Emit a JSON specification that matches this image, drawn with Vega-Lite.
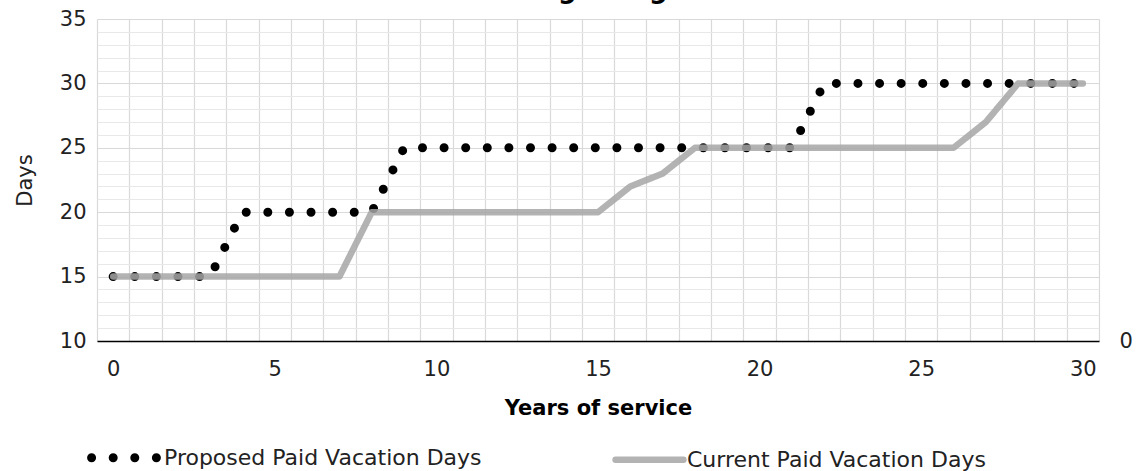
{
  "$schema": "https://vega.github.io/schema/vega-lite/v6.json",
  "width": 1002,
  "height": 322,
  "autosize": {"type": "none"},
  "padding": {"left": 97, "top": 19, "right": 37, "bottom": 130},
  "background": "white",
  "title": {"text": "Bargaining Goal", "font": "DejaVu Sans", "fontSize": 26, "fontWeight": "bold", "color": "#000000", "baseline": "alphabetic", "offset": 0, "dy": 16, "anchor": "middle", "dx": 27},
  "config": {"font": "DejaVu Sans", "view": {"stroke": null}},
  "data": {"values": [
    {"year": 0, "days": 15, "series": "Proposed Paid Vacation Days"},
    {"year": 1, "days": 15, "series": "Proposed Paid Vacation Days"},
    {"year": 2, "days": 15, "series": "Proposed Paid Vacation Days"},
    {"year": 3, "days": 15, "series": "Proposed Paid Vacation Days"},
    {"year": 4, "days": 20, "series": "Proposed Paid Vacation Days"},
    {"year": 5, "days": 20, "series": "Proposed Paid Vacation Days"},
    {"year": 6, "days": 20, "series": "Proposed Paid Vacation Days"},
    {"year": 7, "days": 20, "series": "Proposed Paid Vacation Days"},
    {"year": 8, "days": 20, "series": "Proposed Paid Vacation Days"},
    {"year": 9, "days": 25, "series": "Proposed Paid Vacation Days"},
    {"year": 10, "days": 25, "series": "Proposed Paid Vacation Days"},
    {"year": 11, "days": 25, "series": "Proposed Paid Vacation Days"},
    {"year": 12, "days": 25, "series": "Proposed Paid Vacation Days"},
    {"year": 13, "days": 25, "series": "Proposed Paid Vacation Days"},
    {"year": 14, "days": 25, "series": "Proposed Paid Vacation Days"},
    {"year": 15, "days": 25, "series": "Proposed Paid Vacation Days"},
    {"year": 16, "days": 25, "series": "Proposed Paid Vacation Days"},
    {"year": 17, "days": 25, "series": "Proposed Paid Vacation Days"},
    {"year": 18, "days": 25, "series": "Proposed Paid Vacation Days"},
    {"year": 19, "days": 25, "series": "Proposed Paid Vacation Days"},
    {"year": 20, "days": 25, "series": "Proposed Paid Vacation Days"},
    {"year": 21, "days": 25, "series": "Proposed Paid Vacation Days"},
    {"year": 22, "days": 30, "series": "Proposed Paid Vacation Days"},
    {"year": 23, "days": 30, "series": "Proposed Paid Vacation Days"},
    {"year": 24, "days": 30, "series": "Proposed Paid Vacation Days"},
    {"year": 25, "days": 30, "series": "Proposed Paid Vacation Days"},
    {"year": 26, "days": 30, "series": "Proposed Paid Vacation Days"},
    {"year": 27, "days": 30, "series": "Proposed Paid Vacation Days"},
    {"year": 28, "days": 30, "series": "Proposed Paid Vacation Days"},
    {"year": 29, "days": 30, "series": "Proposed Paid Vacation Days"},
    {"year": 30, "days": 30, "series": "Proposed Paid Vacation Days"},
    {"year": 0, "days": 15, "series": "Current Paid Vacation Days"},
    {"year": 1, "days": 15, "series": "Current Paid Vacation Days"},
    {"year": 2, "days": 15, "series": "Current Paid Vacation Days"},
    {"year": 3, "days": 15, "series": "Current Paid Vacation Days"},
    {"year": 4, "days": 15, "series": "Current Paid Vacation Days"},
    {"year": 5, "days": 15, "series": "Current Paid Vacation Days"},
    {"year": 6, "days": 15, "series": "Current Paid Vacation Days"},
    {"year": 7, "days": 15, "series": "Current Paid Vacation Days"},
    {"year": 8, "days": 20, "series": "Current Paid Vacation Days"},
    {"year": 9, "days": 20, "series": "Current Paid Vacation Days"},
    {"year": 10, "days": 20, "series": "Current Paid Vacation Days"},
    {"year": 11, "days": 20, "series": "Current Paid Vacation Days"},
    {"year": 12, "days": 20, "series": "Current Paid Vacation Days"},
    {"year": 13, "days": 20, "series": "Current Paid Vacation Days"},
    {"year": 14, "days": 20, "series": "Current Paid Vacation Days"},
    {"year": 15, "days": 20, "series": "Current Paid Vacation Days"},
    {"year": 16, "days": 22, "series": "Current Paid Vacation Days"},
    {"year": 17, "days": 23, "series": "Current Paid Vacation Days"},
    {"year": 18, "days": 25, "series": "Current Paid Vacation Days"},
    {"year": 19, "days": 25, "series": "Current Paid Vacation Days"},
    {"year": 20, "days": 25, "series": "Current Paid Vacation Days"},
    {"year": 21, "days": 25, "series": "Current Paid Vacation Days"},
    {"year": 22, "days": 25, "series": "Current Paid Vacation Days"},
    {"year": 23, "days": 25, "series": "Current Paid Vacation Days"},
    {"year": 24, "days": 25, "series": "Current Paid Vacation Days"},
    {"year": 25, "days": 25, "series": "Current Paid Vacation Days"},
    {"year": 26, "days": 25, "series": "Current Paid Vacation Days"},
    {"year": 27, "days": 27, "series": "Current Paid Vacation Days"},
    {"year": 28, "days": 30, "series": "Current Paid Vacation Days"},
    {"year": 29, "days": 30, "series": "Current Paid Vacation Days"},
    {"year": 30, "days": 30, "series": "Current Paid Vacation Days"}
  ]},
  "encoding": {
    "x": {
      "field": "year", "type": "quantitative",
      "scale": {"domain": [-0.5, 30.5], "nice": false, "zero": false},
      "axis": {
        "values": [-0.5, 0.5, 1.5, 2.5, 3.5, 4.5, 5.5, 6.5, 7.5, 8.5, 9.5, 10.5, 11.5, 12.5, 13.5, 14.5, 15.5, 16.5, 17.5, 18.5, 19.5, 20.5, 21.5, 22.5, 23.5, 24.5, 25.5, 26.5, 27.5, 28.5, 29.5, 30.5],
        "labelExpr": "(datum.value + 0.5) % 5 === 0 ? format(datum.value + 0.5, 'd') : ''",
        "labelOffset": 16.16,
        "labelFlush": false,
        "labelOverlap": false,
        "labelPadding": 17,
        "labelFontSize": 21,
        "labelColor": "#222222",
        "ticks": false,
        "domain": true,
        "domainColor": "#000000",
        "domainWidth": 1.3,
        "grid": true,
        "gridColor": "#d9d9d9",
        "gridWidth": 1.2,
        "title": "Years of service",
        "titleFontSize": 21,
        "titleFontWeight": "bold",
        "titleColor": "#000000",
        "titlePadding": 18
      }
    },
    "color": {
      "field": "series", "type": "nominal",
      "scale": {"domain": ["Proposed Paid Vacation Days", "Current Paid Vacation Days"], "range": ["#000000", "#a6a6a6"]},
      "legend": {
        "title": null,
        "orient": "none",
        "legendX": -10,
        "legendY": 400,
        "direction": "horizontal",
        "symbolType": "stroke",
        "symbolSize": 4600,
        "symbolStrokeWidth": 7,
        "labelFontSize": 22,
        "labelColor": "#222222",
        "labelLimit": 600,
        "labelOffset": 0,
        "columnPadding": 120,
        "padding": 0,
        "encode": {"symbols": {"update": {"strokeCap": {"value": "round"}}}}
      }
    },
    "strokeDash": {
      "field": "series", "type": "nominal",
      "scale": {"domain": ["Proposed Paid Vacation Days", "Current Paid Vacation Days"], "range": [[0, 21.6], [1, 0]]}
    },
    "strokeWidth": {
      "field": "series", "type": "nominal",
      "scale": {"domain": ["Proposed Paid Vacation Days", "Current Paid Vacation Days"], "range": [9, 6.5]}
    },
    "opacity": {
      "field": "series", "type": "nominal",
      "scale": {"domain": ["Proposed Paid Vacation Days", "Current Paid Vacation Days"], "range": [1, 0.85]}
    }
  },
  "layer": [
    {
      "transform": [{"filter": "datum.series === 'Proposed Paid Vacation Days'"}],
      "mark": {"type": "line", "strokeCap": "round", "strokeJoin": "round"},
      "encoding": {
        "y": {
          "field": "days", "type": "quantitative",
          "scale": {"domain": [10, 35], "nice": false, "zero": false},
          "axis": {
            "orient": "left",
            "values": [10, 11, 12, 13, 14, 15, 16, 17, 18, 19, 20, 21, 22, 23, 24, 25, 26, 27, 28, 29, 30, 31, 32, 33, 34, 35],
            "labelExpr": "datum.value % 5 === 0 ? datum.label : ''",
            "labelFontSize": 21,
            "labelColor": "#222222",
            "labelPadding": 11,
            "labelOverlap": false,
            "labelFlush": false,
            "ticks": false,
            "domain": false,
            "grid": true,
            "gridColor": {"condition": {"test": "datum.value % 5 === 0", "value": "#d9d9d9"}, "value": "#e8e8e8"},
            "gridWidth": 1.2,
            "title": "Days",
            "titleFontSize": 21,
            "titleFontWeight": "normal",
            "titleColor": "#222222",
            "titlePadding": 24
          }
        }
      }
    },
    {
      "transform": [{"filter": "datum.series === 'Current Paid Vacation Days'"}],
      "mark": {"type": "line", "strokeCap": "round", "strokeJoin": "round"},
      "encoding": {
        "y": {
          "field": "days", "type": "quantitative",
          "scale": {"domain": [10, 35], "nice": false, "zero": false},
          "axis": {
            "orient": "right",
            "values": [10],
            "labelExpr": "'0'",
            "labelFontSize": 21,
            "labelColor": "#222222",
            "labelPadding": 20,
            "labelFlush": false,
            "ticks": false,
            "domain": false,
            "grid": false,
            "title": null
          }
        }
      }
    }
  ],
  "resolve": {"axis": {"y": "independent"}}
}
